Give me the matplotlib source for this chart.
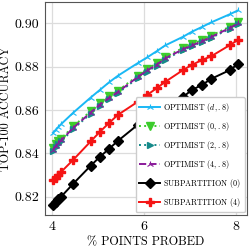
import numpy as np
import matplotlib
matplotlib.use('Agg')
import matplotlib.pyplot as plt

plt.rcParams['font.family'] = 'serif'
plt.rcParams['font.serif'] = ['cmr10', 'DejaVu Serif']
plt.rcParams['mathtext.fontset'] = 'cm'
plt.rcParams['axes.formatter.use_mathtext'] = True

# % points probed (shared by all series)
x = [4.02, 4.08, 4.14, 4.2, 4.46, 4.84, 5.04, 5.24, 5.43, 5.86,
     6.07, 6.28, 6.46, 6.85, 7.04, 7.26, 7.46, 7.87, 8.04]

opt_d = [0.8495, 0.8508, 0.8522, 0.8535, 0.8587, 0.8657, 0.8692, 0.8727, 0.8757, 0.8815,
         0.8842, 0.8871, 0.8897, 0.8937, 0.8960, 0.8982, 0.9003, 0.9041, 0.9058]
opt_0 = [0.8425, 0.8442, 0.8455, 0.8468, 0.8524, 0.8594, 0.8631, 0.8662, 0.8688, 0.8757,
         0.8788, 0.8815, 0.8843, 0.8886, 0.8903, 0.8922, 0.8942, 0.8984, 0.9003]
opt_2 = [0.8410, 0.8428, 0.8442, 0.8455, 0.8512, 0.8583, 0.8620, 0.8651, 0.8677, 0.8746,
         0.8777, 0.8804, 0.8832, 0.8876, 0.8893, 0.8912, 0.8932, 0.8974, 0.8994]
opt_4 = [0.8415, 0.8433, 0.8447, 0.8460, 0.8517, 0.8588, 0.8625, 0.8656, 0.8682, 0.8751,
         0.8782, 0.8809, 0.8837, 0.8880, 0.8897, 0.8916, 0.8936, 0.8978, 0.8998]
sub_0 = [0.8163, 0.8175, 0.8188, 0.8201, 0.8260, 0.8343, 0.8384, 0.8421, 0.8457, 0.8531,
         0.8563, 0.8586, 0.8614, 0.8660, 0.8692, 0.8715, 0.8743, 0.8784, 0.8811]
sub_4 = [0.8278, 0.8289, 0.8302, 0.8315, 0.8370, 0.8455, 0.8499, 0.8540, 0.8577, 0.8637,
         0.8669, 0.8701, 0.8729, 0.8784, 0.8807, 0.8830, 0.8847, 0.8899, 0.8922]

labels = [r'OPTIMIST $(d, .8)$', r'OPTIMIST $(0, .8)$', r'OPTIMIST $(2, .8)$',
          r'OPTIMIST $(4, .8)$', r'SUBPARTITION $(0)$', r'SUBPARTITION $(4)$']

fig = plt.figure(figsize=(2.49, 2.49), dpi=100)
ax = fig.add_axes([0.181, 0.137, 0.811, 0.855])

ax.plot(x, opt_d, color='#1ab8f5', lw=1.4, marker='2', ms=5, mew=0.8, label=labels[0])
ax.plot(x, opt_0, color='#3ccc2c', lw=1.4, ls=':', marker='v', ms=5.5, label=labels[1])
ax.plot(x, opt_2, color='#168a8a', lw=1.4, ls=':', marker='>', ms=5, label=labels[2])
ax.plot(x, opt_4, color='#8a1a9a', lw=1.4, ls='--', marker='2', ms=5, mew=0.8, label=labels[3])
ax.plot(x, sub_0, color='black', lw=1.4, marker='D', ms=5, label=labels[4])
ax.plot(x, sub_4, color='#f51414', lw=1.4, marker='P', ms=6, label=labels[5])

ax.set_xlim(3.85, 8.24)
ax.set_ylim(0.8117, 0.9097)
ax.set_xticks([4, 6, 8])
ax.set_yticks([0.82, 0.84, 0.86, 0.88, 0.90])
ax.set_yticklabels(['0.82', '0.84', '0.86', '0.88', '0.90'])
ax.tick_params(labelsize=10, length=0, pad=4)
ax.grid(True, color='#dcdcdc', lw=0.9)
ax.set_axisbelow(True)
for s in ax.spines.values():
    s.set_color('#555555')
    s.set_linewidth(0.8)

ax.set_xlabel('% POINTS PROBED', fontsize=8.8, labelpad=2)
ax.set_ylabel('TOP-100 ACCURACY', fontsize=8.8, labelpad=2)

ax.legend(loc='lower right', fontsize=5.8, handlelength=2.6, borderaxespad=0.3,
          labelspacing=0.75, framealpha=1, edgecolor='#cccccc', borderpad=0.45,
          handletextpad=0.4)

fig.savefig('out.png', dpi=100)
